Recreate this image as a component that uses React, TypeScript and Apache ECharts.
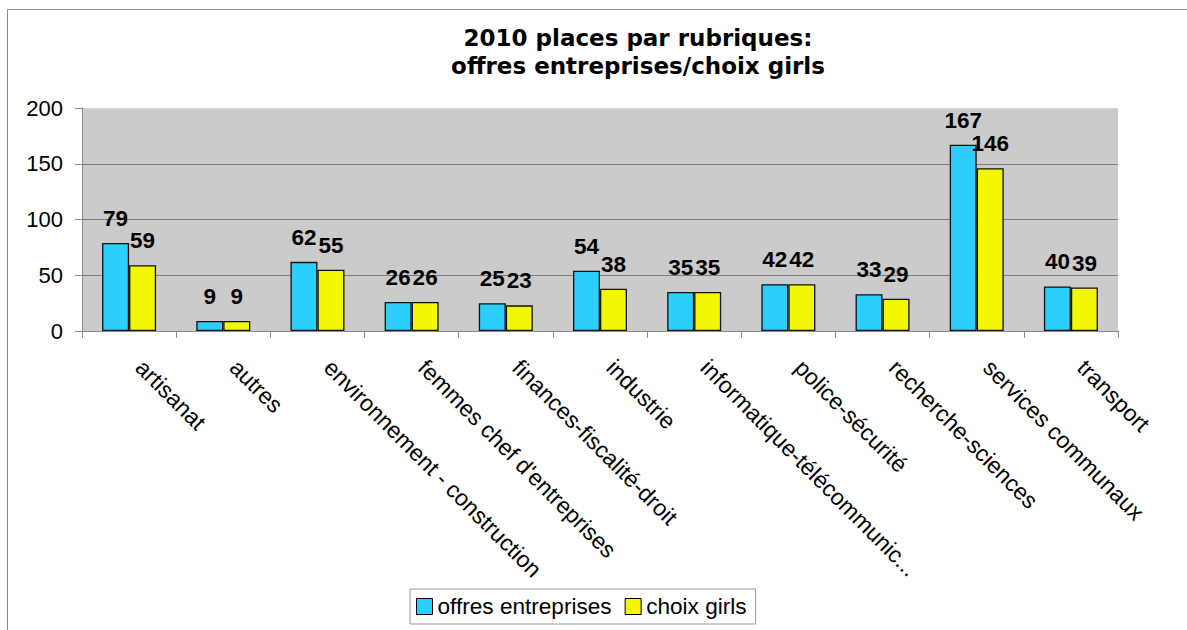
import React, { useEffect, useRef } from "react";
import * as echarts from "echarts";

const categories = [
  "artisanat",
  "autres",
  "environnement - construction",
  "femmes chef d'entreprises",
  "finances-fiscalité-droit",
  "industrie",
  "informatique-télécommunic...",
  "police-sécurité",
  "recherche-sciences",
  "services communaux",
  "transport",
];
const offresEntreprises = [79, 9, 62, 26, 25, 54, 35, 42, 33, 167, 40];
const choixGirls = [59, 9, 55, 26, 23, 38, 35, 42, 29, 146, 39];
const seriesNames = ["offres entreprises", "choix girls"];
const titleText = "2010 places par rubriques:\noffres entreprises/choix girls";

const SANS = "'Liberation Sans', Arial, sans-serif";

export default function App() {
  const ref = useRef<HTMLDivElement>(null);
  useEffect(() => {
    if (!ref.current) return;
    const chart = echarts.init(ref.current, null, { renderer: "svg" });
    const labelStyle = {
      show: true,
      position: "top",
      distance: 13,
      color: "#000",
      fontWeight: "bold",
      fontSize: 22.5,
      fontFamily: SANS,
    };
    chart.setOption({
      animation: false,
      backgroundColor: "#fff",
      graphic: [
        {
          type: "polyline",
          shape: { points: [[7.5, 700], [7.5, 9.5], [1300, 9.5]] },
          style: { stroke: "#8a8a8a", lineWidth: 1, fill: null },
          silent: true,
        },
        {
          type: "text",
          x: 638,
          y: 24,
          style: {
            text: titleText,
            textAlign: "center",
            textVerticalAlign: "top",
            font: "bold 23px 'DejaVu Sans', sans-serif",
            lineHeight: 28,
            fill: "#000",
          },
          silent: true,
        },
      ],
      legend: {
        data: seriesNames,
        left: 410,
        top: 589,
        orient: "horizontal",
        padding: [6, 9, 6, 6],
        borderColor: "#9a9a9a",
        borderWidth: 1,
        itemWidth: 16,
        itemHeight: 16,
        itemGap: 13,
        icon: "rect",
        itemStyle: { borderColor: "#000", borderWidth: 1 },
        textStyle: { fontSize: 22.6, fontFamily: SANS, color: "#000" },
      },
      grid: {
        left: 82,
        top: 108,
        width: 1036,
        height: 223,
        show: true,
        backgroundColor: "#cbcbcb",
        borderWidth: 0,
      },
      xAxis: {
        type: "category",
        data: categories,
        boundaryGap: true,
        axisLine: { show: true, lineStyle: { color: "#8a8a8a", width: 1 } },
        axisTick: { show: true, length: 7, interval: 0, lineStyle: { color: "#8a8a8a" } },
        axisLabel: {
          interval: 0,
          rotate: -45,
          margin: 22,
          padding: [0, 0, 0, 15],
          fontSize: 23,
          fontFamily: SANS,
          color: "#000",
        },
        splitLine: { show: false },
      },
      yAxis: {
        type: "value",
        min: 0,
        max: 200,
        interval: 50,
        axisLine: { show: true, lineStyle: { color: "#8a8a8a", width: 1 } },
        axisTick: { show: true, length: 7, lineStyle: { color: "#8a8a8a" } },
        axisLabel: { margin: 19, fontSize: 22, fontFamily: SANS, color: "#000" },
        splitLine: {
          show: true,
          lineStyle: { color: ["#8a8a8a", "#7c7c7c", "#7c7c7c", "#7c7c7c", "#d4d4d4"], width: 1 },
        },
      },
      series: [
        {
          name: seriesNames[0],
          type: "bar",
          data: offresEntreprises,
          barWidth: 27,
          barGap: "0%",
          itemStyle: { color: "#2ccefb", borderColor: "#111", borderWidth: 1.3 },
          label: labelStyle,
        },
        {
          name: seriesNames[1],
          type: "bar",
          data: choixGirls,
          barWidth: 27,
          barGap: "0%",
          itemStyle: { color: "#f2f800", borderColor: "#111", borderWidth: 1.3 },
          label: labelStyle,
        },
      ],
    });
    return () => chart.dispose();
  }, []);
  return (
    <div
      ref={ref}
      style={{ position: "fixed", left: 0, top: 0, width: 1187, height: 630 }}
    />
  );
}
